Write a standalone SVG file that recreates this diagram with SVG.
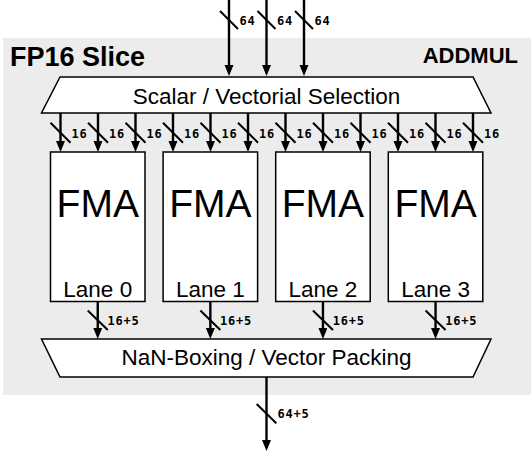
<svg xmlns="http://www.w3.org/2000/svg" width="531" height="456" viewBox="0 0 531 456">
<defs>
<style>
.bg{fill:#ececec;stroke:none}
.shape{fill:#fff;stroke:#000;stroke-width:1.5}
.wire{stroke:#000;stroke-width:2.4;fill:none;marker-end:url(#ah)}
.slash{stroke:#000;stroke-width:2;fill:none}
.lbl{font-family:"DejaVu Sans Mono","Liberation Mono",monospace;font-weight:bold;font-size:12px;letter-spacing:0.8px;fill:#000}
.big{font-family:"Liberation Sans",Arial,sans-serif;fill:#000}
</style>
<marker id="ah" markerUnits="userSpaceOnUse" markerWidth="12" markerHeight="10" refX="6" refY="4.5" orient="auto">
<path d="M0,0 L11,4.5 L0,9 z" fill="#000"/>
</marker>
</defs>
<g id="slice">
<rect class="bg" x="3" y="38" width="528" height="357"/>
<text class="big" x="10" y="66" font-size="27" font-weight="bold">FP16 Slice</text>
<text class="big" x="518" y="62.7" font-size="22" font-weight="bold" text-anchor="end">ADDMUL</text>
</g>
<g id="selection">
<polygon class="shape" points="60,77 473,77 491,113 41.5,113"/>
<text class="big" x="266.5" y="103.5" font-size="22.5" text-anchor="middle">Scalar / Vectorial Selection</text>
</g>
<g id="fma0">
<rect class="shape" x="50.5" y="152" width="94.5" height="149.5"/>
<text class="big" x="97.75" y="217" font-size="39" text-anchor="middle">FMA</text>
<text class="big" x="97.75" y="296.7" font-size="22.5" text-anchor="middle">Lane 0</text>
</g>
<g id="fma1">
<rect class="shape" x="163.1" y="152" width="94.5" height="149.5"/>
<text class="big" x="210.35" y="217" font-size="39" text-anchor="middle">FMA</text>
<text class="big" x="210.35" y="296.7" font-size="22.5" text-anchor="middle">Lane 1</text>
</g>
<g id="fma2">
<rect class="shape" x="275.7" y="152" width="94.5" height="149.5"/>
<text class="big" x="322.95" y="217" font-size="39" text-anchor="middle">FMA</text>
<text class="big" x="322.95" y="296.7" font-size="22.5" text-anchor="middle">Lane 2</text>
</g>
<g id="fma3">
<rect class="shape" x="388.3" y="152" width="94.5" height="149.5"/>
<text class="big" x="435.55" y="217" font-size="39" text-anchor="middle">FMA</text>
<text class="big" x="435.55" y="296.7" font-size="22.5" text-anchor="middle">Lane 3</text>
</g>
<g id="packing">
<polygon class="shape" points="41.5,339 491,339 473,377 60,377"/>
<text class="big" x="266.5" y="365" font-size="22.5" text-anchor="middle">NaN-Boxing / Vector Packing</text>
</g>
<g id="connectors">
<path class="wire" d="M229,0 V71"/>
<path class="wire" d="M266.5,0 V71"/>
<path class="wire" d="M304,0 V71"/>
<path class="slash" d="M220,11 L238,29 M257.5,11 L275.5,29 M295,11 L313,29"/>
<text class="lbl" x="239.5" y="25">64</text>
<text class="lbl" x="277" y="25">64</text>
<text class="lbl" x="314.5" y="25">64</text>
<path class="wire" d="M60.5,113 V147"/>
<path class="wire" d="M98,113 V147"/>
<path class="wire" d="M135.5,113 V147"/>
<path class="wire" d="M173,113 V147"/>
<path class="wire" d="M210.5,113 V147"/>
<path class="wire" d="M248,113 V147"/>
<path class="wire" d="M285.5,113 V147"/>
<path class="wire" d="M323,113 V147"/>
<path class="wire" d="M360.5,113 V147"/>
<path class="wire" d="M398,113 V147"/>
<path class="wire" d="M435.5,113 V147"/>
<path class="wire" d="M473,113 V147"/>
<path class="slash" d="M50.5,122.7 l20,20 M88,122.7 l20,20 M125.5,122.7 l20,20 M163,122.7 l20,20 M200.5,122.7 l20,20 M238,122.7 l20,20 M275.5,122.7 l20,20 M313,122.7 l20,20 M350.5,122.7 l20,20 M388,122.7 l20,20 M425.5,122.7 l20,20 M463,122.7 l20,20"/>
<text class="lbl" x="71.5" y="137.5">16</text>
<text class="lbl" x="109" y="137.5">16</text>
<text class="lbl" x="146.5" y="137.5">16</text>
<text class="lbl" x="184" y="137.5">16</text>
<text class="lbl" x="221.5" y="137.5">16</text>
<text class="lbl" x="259" y="137.5">16</text>
<text class="lbl" x="296.5" y="137.5">16</text>
<text class="lbl" x="334" y="137.5">16</text>
<text class="lbl" x="371.5" y="137.5">16</text>
<text class="lbl" x="409" y="137.5">16</text>
<text class="lbl" x="446.5" y="137.5">16</text>
<text class="lbl" x="484" y="137.5">16</text>
<path class="wire" d="M97.75,301.5 V334"/>
<path class="wire" d="M210.35,301.5 V334"/>
<path class="wire" d="M322.95,301.5 V334"/>
<path class="wire" d="M435.55,301.5 V334"/>
<path class="slash" d="M87.75,310.5 l20,19.5 M200.35,310.5 l20,19.5 M312.95,310.5 l20,19.5 M425.55,310.5 l20,19.5"/>
<text class="lbl" x="107.5" y="325">16+5</text>
<text class="lbl" x="220" y="325">16+5</text>
<text class="lbl" x="332.7" y="325">16+5</text>
<text class="lbl" x="445.3" y="325">16+5</text>
<path class="wire" d="M266.5,377 V446"/>
<path class="slash" d="M256.7,404 L276.3,423.3"/>
<text class="lbl" x="277.5" y="418">64+5</text>
</g>
</svg>
